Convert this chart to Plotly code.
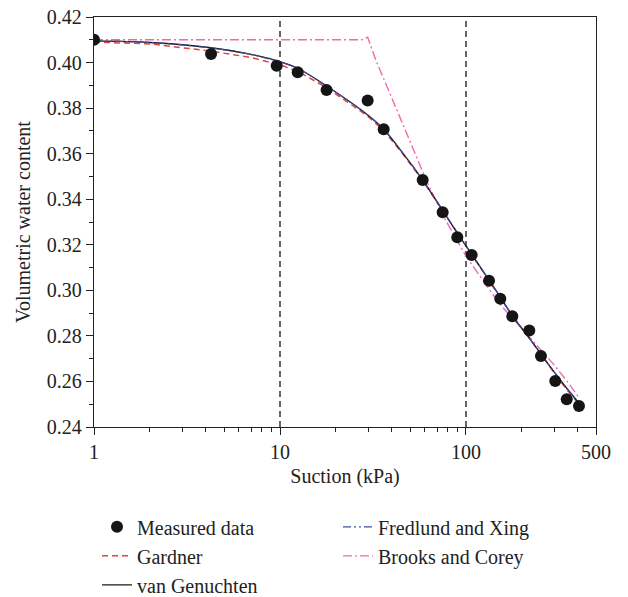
import plotly.graph_objects as go

# Measured data
suction_meas = [1.0, 4.26, 9.6, 12.45, 17.8, 29.6, 36.1, 58.5, 74.9, 89.8, 107.3, 133, 152.9,
                177.4, 218.9, 253, 302, 348, 405]
theta_meas = [0.410, 0.4038, 0.3986, 0.3957, 0.3880, 0.3833, 0.3707, 0.3484, 0.3343, 0.3233,
              0.3155, 0.3042, 0.2963, 0.2886, 0.2824, 0.2712, 0.2602, 0.2522, 0.2492]

# Fitted curves
suction_fit = [1, 2, 4.26, 7, 10, 12.45, 17.8, 29.6, 36.1, 45, 58.5, 75, 90, 107, 133, 153,
               177, 219, 253, 302, 348, 405]
theta_vg = [0.4095, 0.4088, 0.4065, 0.4036, 0.4004, 0.3975, 0.3897, 0.3770, 0.3707, 0.3610,
            0.3484, 0.3350, 0.3250, 0.3160, 0.3045, 0.2970, 0.2890, 0.2790, 0.2720, 0.2635,
            0.2570, 0.2505]
theta_gardner = [0.4090, 0.4082, 0.4050, 0.4022, 0.3990, 0.3962, 0.3890, 0.3765, 0.3702, 0.3606,
                 0.3482, 0.3350, 0.3250, 0.3160, 0.3045, 0.2970, 0.2890, 0.2790, 0.2718, 0.2632,
                 0.2565, 0.2500]
theta_fx = [0.4095, 0.4088, 0.4064, 0.4035, 0.4002, 0.3974, 0.3896, 0.3770, 0.3707, 0.3610,
            0.3484, 0.3350, 0.3250, 0.3160, 0.3045, 0.2970, 0.2890, 0.2790, 0.2720, 0.2635,
            0.2570, 0.2505]
suction_bc = [1, 27.5, 29.6, 33, 40, 50, 61.6, 75, 100, 150, 200, 250, 300, 350, 400]
theta_bc = [0.410, 0.410, 0.4111, 0.4004, 0.3843, 0.3650, 0.3477, 0.3330, 0.3150, 0.2945,
            0.2830, 0.2745, 0.2670, 0.2600, 0.2535]

ref_lines = [10, 100]
x_ticks = [1, 10, 100, 500]
x_minor = [2, 3, 4, 5, 6, 7, 8, 9, 20, 30, 40, 50, 60, 70, 80, 90, 200, 300, 400]

FONT = "Liberation Serif"

fig = go.Figure()
fig.add_trace(go.Scatter(x=suction_bc, y=theta_bc, mode="lines", name="Brooks and Corey",
                         line=dict(color="#f06aae", width=1.4, dash="9px,3px,2px,3px"),
                         legend="legend2", legendrank=2))
fig.add_trace(go.Scatter(x=suction_fit, y=theta_gardner, mode="lines", name="Gardner",
                         line=dict(color="#e8413a", width=1.5, dash="6px,4px"),
                         legend="legend", legendrank=2))
fig.add_trace(go.Scatter(x=suction_fit, y=theta_vg, mode="lines", name="van Genuchten",
                         line=dict(color="#1a1a1a", width=1.3, shape="spline"),
                         legend="legend", legendrank=3))
fig.add_trace(go.Scatter(x=suction_fit, y=theta_fx, mode="lines", name="Fredlund and Xing",
                         line=dict(color="#3c4fa8", width=1.3, dash="8px,3px,2px,3px,2px,3px",
                                   shape="spline"),
                         legend="legend2", legendrank=1))
fig.add_trace(go.Scatter(x=suction_meas, y=theta_meas, mode="markers", name="Measured data",
                         marker=dict(color="#151515", size=12),
                         legend="legend", legendrank=1))

for xv in ref_lines:
    fig.add_shape(type="line", xref="x", yref="paper", x0=xv, x1=xv, y0=0, y1=1,
                  line=dict(color="#333333", width=1.5, dash="6px,4px"), layer="below")

axis_common = dict(showline=True, linecolor="#222", linewidth=1.3, mirror=True,
                   ticks="outside", ticklen=7, tickwidth=1.2, tickcolor="#222",
                   showgrid=False, zeroline=False, automargin=False,
                   tickfont=dict(family=FONT, size=20, color="#222"))

fig.update_xaxes(type="log", range=[0, 2.69897], tickmode="array", tickvals=x_ticks,
                 ticktext=[str(v) for v in x_ticks],
                 minor=dict(tickmode="array", tickvals=x_minor, ticks="outside", ticklen=4,
                            tickcolor="#222", tickwidth=1, showgrid=False),
                 title=dict(text="Suction (kPa)", font=dict(family=FONT, size=20, color="#222"),
                            standoff=6),
                 **axis_common)
fig.update_yaxes(range=[0.24, 0.42], dtick=0.02, tick0=0.24, tickformat=".2f",
                 minor=dict(dtick=0.01, ticks="outside", ticklen=4, tickcolor="#222",
                            tickwidth=1, showgrid=False),
                 title=dict(text="Volumetric water content",
                            font=dict(family=FONT, size=20, color="#222"), standoff=10),
                 **axis_common)

legend_common = dict(font=dict(family=FONT, size=20, color="#222"), bgcolor="rgba(0,0,0,0)",
                     orientation="v", xanchor="left", yanchor="top", tracegroupgap=0,
                     traceorder="normal", itemwidth=30)
fig.update_layout(
    width=628, height=597,
    margin=dict(l=94, r=32, t=17, b=170, autoexpand=False),
    paper_bgcolor="white", plot_bgcolor="white",
    font=dict(family=FONT, size=20, color="#222"),
    showlegend=True,
    legend=dict(x=0.006, y=-0.196, **legend_common),
    legend2=dict(x=0.486, y=-0.196, **legend_common),
)

fig.write_html("out.html", config={"displayModeBar": False},
               post_script="document.body.style.margin='0';document.body.style.padding='0';")
